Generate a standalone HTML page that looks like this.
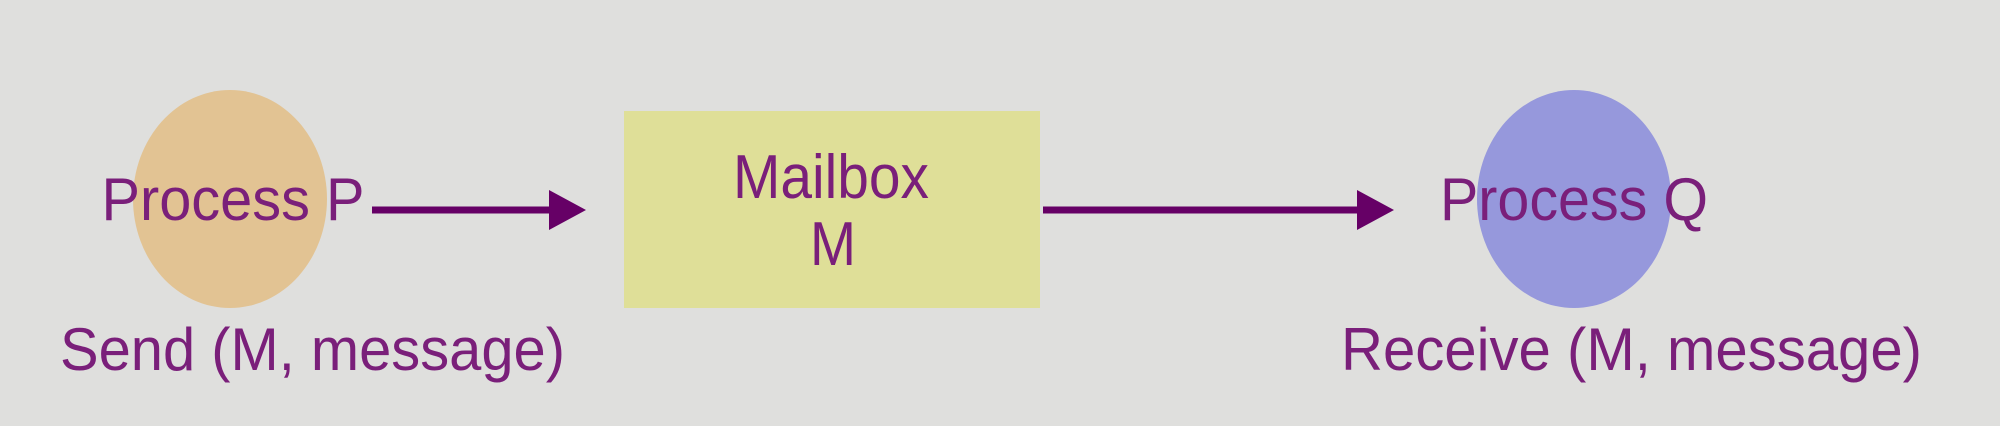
<!DOCTYPE html>
<html><head><style>
html,body{margin:0;padding:0;background:#dfdfdd;}
svg{display:block;}
text{font-family:"Liberation Sans",Arial,sans-serif;fill:#7a1f7a;}
</style></head><body>
<svg width="2000" height="426" viewBox="0 0 2000 426" xmlns="http://www.w3.org/2000/svg">
<rect width="2000" height="426" fill="#dfdfdd"/>
<ellipse cx="230" cy="199" rx="97" ry="109" fill="#e2c393"/>
<ellipse cx="1574" cy="199" rx="97" ry="109" fill="#9698dc"/>
<rect x="624" y="111" width="416" height="197" fill="#dfdf98"/>
<line x1="372" y1="210" x2="552" y2="210" stroke="#660066" stroke-width="7"/>
<polygon points="549,190 586,210 549,230" fill="#660066"/>
<line x1="1043" y1="210" x2="1360" y2="210" stroke="#660066" stroke-width="7"/>
<polygon points="1357,190 1394,210 1357,230" fill="#660066"/>
<text x="233" y="220" font-size="60" text-anchor="middle" textLength="263" lengthAdjust="spacingAndGlyphs">Process P</text>
<text x="1574" y="220" font-size="60" text-anchor="middle" textLength="268" lengthAdjust="spacingAndGlyphs">Process Q</text>
<text x="831" y="198" font-size="62" text-anchor="middle" textLength="196" lengthAdjust="spacingAndGlyphs">Mailbox</text>
<text x="833" y="265" font-size="62" text-anchor="middle" textLength="46" lengthAdjust="spacingAndGlyphs">M</text>
<text x="60" y="370" font-size="60" textLength="505" lengthAdjust="spacingAndGlyphs">Send (M, message)</text>
<text x="1341" y="370" font-size="60" textLength="581" lengthAdjust="spacingAndGlyphs">Receive (M, message)</text>
</svg>
</body></html>
